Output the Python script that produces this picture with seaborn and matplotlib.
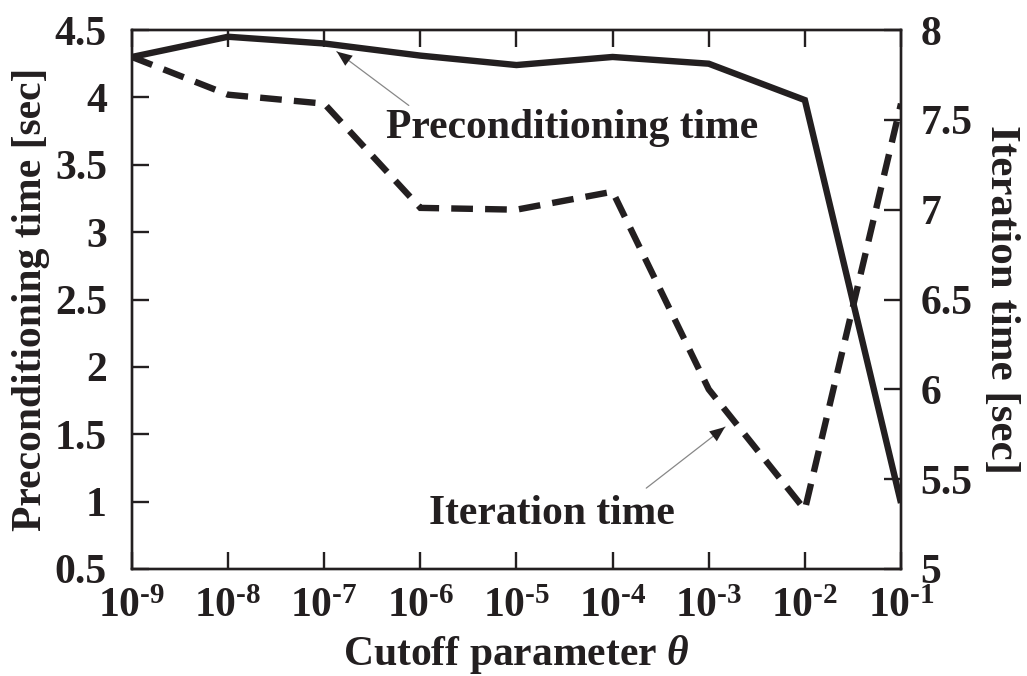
import numpy as np
import pandas as pd
import matplotlib
matplotlib.use("Agg")
import matplotlib.pyplot as plt
import seaborn as sns

# Cutoff parameter theta (decades) and measured timings
theta = [1e-9, 1e-8, 1e-7, 1e-6, 1e-5, 1e-4, 1e-3, 1e-2, 1e-1]
precond_time = [4.30, 4.45, 4.40, 4.31, 4.24, 4.30, 4.25, 3.98, 0.99]
iter_time = [7.85, 7.64, 7.59, 7.01, 7.00, 7.10, 6.00, 5.33, 7.59]
xtick_labels = [r"$\mathbf{10^{\text{-}%d}}$" % e for e in range(9, 0, -1)]
left_ticks = [0.5, 1, 1.5, 2, 2.5, 3, 3.5, 4, 4.5]
left_tick_labels = ["0.5", "1", "1.5", "2", "2.5", "3", "3.5", "4", "4.5"]
right_ticks = [5, 5.5, 6, 6.5, 7, 7.5, 8]
right_tick_labels = ["5", "5.5", "6", "6.5", "7", "7.5", "8"]

sns.set_style("ticks")
INK = "#231f20"
plt.rcParams["font.family"] = ["Liberation Serif", "DejaVu Serif"]
plt.rcParams["font.weight"] = "bold"
plt.rcParams["mathtext.fontset"] = "custom"
plt.rcParams["mathtext.rm"] = "Liberation Serif:bold"
plt.rcParams["mathtext.bf"] = "Liberation Serif:bold"
plt.rcParams["mathtext.it"] = "Liberation Serif:italic:bold"
plt.rcParams["text.color"] = INK
plt.rcParams["axes.labelcolor"] = INK
plt.rcParams["xtick.color"] = INK
plt.rcParams["ytick.color"] = INK
plt.rcParams["xtick.direction"] = "in"
plt.rcParams["ytick.direction"] = "in"
plt.rcParams["xtick.top"] = True
plt.rcParams["xtick.minor.visible"] = False

df = pd.DataFrame({"theta": theta, "precond": precond_time, "iter": iter_time})

fig = plt.figure(figsize=(10.27, 6.76), dpi=100)
ax = fig.add_axes([0.1285, 0.1583, 0.7488, 0.7973])
ax2 = ax.twinx()

FS = 30
LW = 4.6
TICK_W = 1.7
TICK_L = 12

sns.lineplot(data=df, x="theta", y="precond", ax=ax, color=INK, linewidth=LW,
             solid_joinstyle="miter", solid_capstyle="butt")
sns.lineplot(data=df, x="theta", y="iter", ax=ax2, color=INK, linewidth=LW,
             linestyle=(0, (3.4, 1.9)), dash_joinstyle="miter", dash_capstyle="butt")

ax.set_xscale("log")
ax.set_xlim(1e-9, 1e-1)
ax.set_ylim(0.5, 4.5)
ax2.set_ylim(5, 8)

ax.set_xticks(theta)
ax.set_xticklabels(xtick_labels, fontsize=FS)
ax.xaxis.set_minor_locator(matplotlib.ticker.NullLocator())
ax.set_yticks(left_ticks)
ax.set_yticklabels(left_tick_labels, fontsize=FS, fontweight="bold")
ax2.set_yticks(right_ticks)
ax2.set_yticklabels(right_tick_labels, fontsize=FS, fontweight="bold")
ax2.yaxis.set_minor_locator(matplotlib.ticker.NullLocator())
ax.yaxis.set_minor_locator(matplotlib.ticker.NullLocator())

ax.tick_params(axis="x", which="major", direction="in", length=TICK_L, width=TICK_W,
               color=INK, top=True, bottom=True, pad=14)
ax.tick_params(axis="y", which="major", direction="in", length=TICK_L, width=TICK_W,
               color=INK, left=True, right=False, pad=18)
ax2.tick_params(axis="y", which="major", direction="in", length=TICK_L, width=TICK_W,
                color=INK, right=True, left=False, pad=14)

for a in (ax, ax2):
    for s in a.spines.values():
        s.set_linewidth(1.7)
        s.set_color(INK)
        s.set_visible(True)

ax.set_xlabel(r"Cutoff parameter $\theta$", fontsize=FS, fontweight="bold", labelpad=5)
ax.set_ylabel("Preconditioning time [sec]", fontsize=FS, fontweight="bold")
ax.yaxis.set_label_coords(-0.107, 0.5)
ax2.set_ylabel("Iteration time [sec]", fontsize=31, fontweight="bold", rotation=-90)
ax2.yaxis.label.set_va("top")
ax2.yaxis.set_label_coords(1.155, 0.5)

# Callouts: thin grey leader ending in a black arrowhead
def callout(text, tip, tail, text_pos):
    ax.annotate("", xy=tip, xytext=tail,
                arrowprops=dict(arrowstyle="-", color="#8a8a8a", lw=0.9,
                                shrinkA=0, shrinkB=0))
    ax.annotate("", xy=tip, xytext=tail,
                arrowprops=dict(arrowstyle="-|>,head_length=1.1,head_width=0.45",
                                color=INK, lw=0.01, shrinkA=0, shrinkB=0))
    ax.text(text_pos[0], text_pos[1], text, fontsize=FS, fontweight="bold",
            ha="center", va="center")

callout("Preconditioning time", (10**-6.87, 4.34), (10**-6.12, 3.94), (10**-4.42, 3.77))
callout("Iteration time", (10**-2.83, 1.554), (10**-3.65, 1.10), (10**-4.63, 0.91))

fig.savefig("out.png", dpi=100)
